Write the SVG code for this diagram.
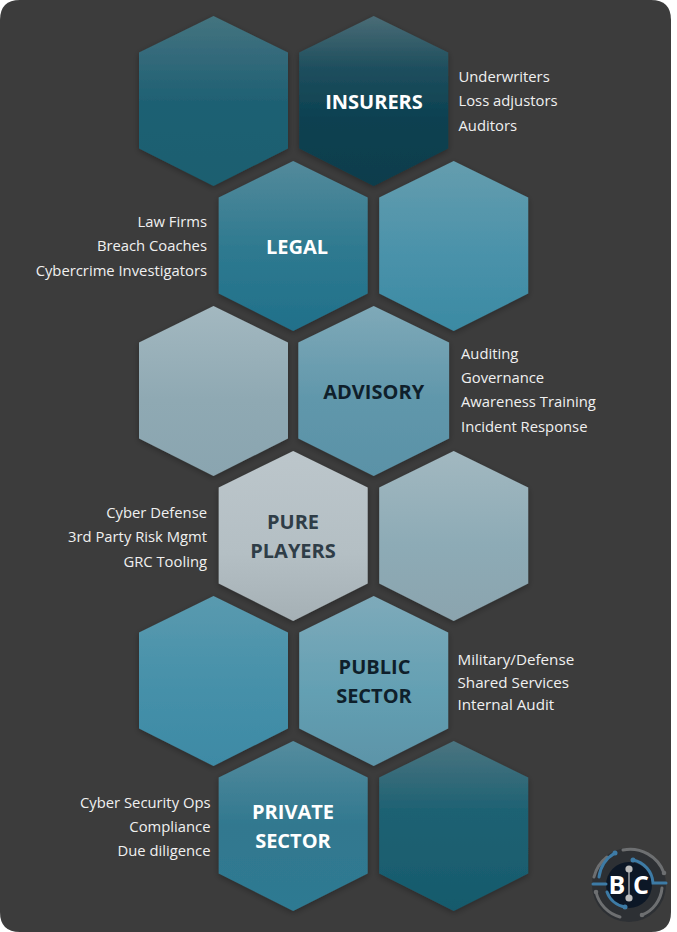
<svg xmlns="http://www.w3.org/2000/svg" width="677" height="932" viewBox="0 0 677 932">
<style>
.t{font-family:"Open Sans","Noto Sans","Liberation Sans",sans-serif}
.h{font-size:20px;font-weight:700;text-anchor:middle;fill:#fff}
.l{font-size:14.8px;fill:#f0f0f0}
.e{text-anchor:end}
.hx{filter:url(#sh)}
</style>
<defs>
<filter id="sh" x="-15%" y="-15%" width="130%" height="130%"><feDropShadow dx="0" dy="2" stdDeviation="3" flood-color="#000" flood-opacity="0.3"/></filter>
<polygon id="hex" points="0,-85 74.5,-48.5 74.5,47.5 0,85 -74.5,47.5 -74.5,-48.5"/>
<linearGradient id="g1" x1="0" y1="0" x2="0" y2="1"><stop offset="0" stop-color="#44747f"/><stop offset=".25" stop-color="#32697a"/><stop offset=".5" stop-color="#1f6173"/><stop offset="1" stop-color="#1a5e70"/></linearGradient>
<linearGradient id="g2" x1="0" y1="0" x2="0" y2="1"><stop offset="0" stop-color="#4a6c76"/><stop offset=".3" stop-color="#1f4f5e"/><stop offset=".6" stop-color="#0c4151"/><stop offset="1" stop-color="#0a3d4c"/></linearGradient>
<linearGradient id="g3" x1="0" y1="0" x2="0" y2="1"><stop offset="0" stop-color="#548a9b"/><stop offset=".5" stop-color="#2f7a90"/><stop offset="1" stop-color="#20708a"/></linearGradient>
<linearGradient id="g4" x1="0" y1="0" x2="0" y2="1"><stop offset="0" stop-color="#659dae"/><stop offset=".55" stop-color="#4a92aa"/><stop offset="1" stop-color="#3b8aa3"/></linearGradient>
<linearGradient id="g5" x1="0" y1="0" x2="0" y2="1"><stop offset="0" stop-color="#a3b8c0"/><stop offset=".55" stop-color="#8fa9b3"/><stop offset="1" stop-color="#8aa5b0"/></linearGradient>
<linearGradient id="g6" x1="0" y1="0" x2="0" y2="1"><stop offset="0" stop-color="#7fa9b8"/><stop offset=".55" stop-color="#6097ab"/><stop offset="1" stop-color="#5a92a7"/></linearGradient>
<linearGradient id="g7" x1="0" y1="0" x2="0" y2="1"><stop offset="0" stop-color="#bcc6cb"/><stop offset=".6" stop-color="#b4bfc4"/><stop offset="1" stop-color="#a5b0b5"/></linearGradient>
<linearGradient id="g8" x1="0" y1="0" x2="0" y2="1"><stop offset="0" stop-color="#a2b8c0"/><stop offset=".55" stop-color="#8dabb6"/><stop offset="1" stop-color="#8ba4ae"/></linearGradient>
<linearGradient id="g9" x1="0" y1="0" x2="0" y2="1"><stop offset="0" stop-color="#5a9aaf"/><stop offset=".55" stop-color="#4590a9"/><stop offset="1" stop-color="#3e8aa5"/></linearGradient>
<linearGradient id="g10" x1="0" y1="0" x2="0" y2="1"><stop offset="0" stop-color="#7eaaba"/><stop offset=".55" stop-color="#64a0b3"/><stop offset="1" stop-color="#5c94a8"/></linearGradient>
<linearGradient id="g11" x1="0" y1="0" x2="0" y2="1"><stop offset="0" stop-color="#558c9e"/><stop offset=".5" stop-color="#31788f"/><stop offset="1" stop-color="#2e7a92"/></linearGradient>
<linearGradient id="g12" x1="0" y1="0" x2="0" y2="1"><stop offset="0" stop-color="#4b7480"/><stop offset=".4" stop-color="#1f6273"/><stop offset="1" stop-color="#165a6c"/></linearGradient>
</defs>
<path id="panel" d="M20 0H651Q671 0 671 20V912Q671 932 651 932H20Q0 932 0 912V20Q0 0 20 0Z" fill="#3c3c3c"/>
<g id="connectors"></g>
<g id="hex-1"><use href="#hex" class="hx" x="213.5" y="101" fill="url(#g1)"/></g>
<g id="insurers"><use href="#hex" class="hx" x="373.7" y="101" fill="url(#g2)"/><text class="t h" x="374" y="108.500">INSURERS</text>
<g class="t l"><text x="458.500" y="82">Underwriters</text><text x="458.500" y="106">Loss adjustors</text><text x="458.500" y="131">Auditors</text></g></g>
<g id="hex-2"><use href="#hex" class="hx" x="453.7" y="246" fill="url(#g4)"/></g>
<g id="legal"><use href="#hex" class="hx" x="293.200" y="246" fill="url(#g3)"/><text class="t h" x="297" y="254">LEGAL</text>
<g class="t l e"><text x="207" y="227">Law Firms</text><text x="207" y="251">Breach Coaches</text><text x="207" y="276">Cybercrime Investigators</text></g></g>
<g id="hex-3"><use href="#hex" class="hx" x="213.5" y="391" fill="url(#g5)"/></g>
<g id="advisory"><use href="#hex" class="hx" transform="translate(373.700 391) scale(1.012 1)" fill="url(#g6)"/><text class="t h" x="373.7" y="399" style="fill:#0f1f2b">ADVISORY</text>
<g class="t l"><text x="461" y="359">Auditing</text><text x="461" y="383">Governance</text><text x="461" y="407">Awareness Training</text><text x="461" y="432">Incident Response</text></g></g>
<g id="hex-4"><use href="#hex" class="hx" x="453.7" y="536" fill="url(#g8)"/></g>
<g id="pure-players"><use href="#hex" class="hx" x="293.200" y="536" fill="url(#g7)"/><text class="t h" x="293" y="529" style="fill:#2f3d47">PURE</text><text class="t h" x="293" y="558" style="fill:#2f3d47">PLAYERS</text>
<g class="t l e"><text x="207" y="518">Cyber Defense</text><text x="207" y="542">3rd Party Risk Mgmt</text><text x="207" y="567">GRC Tooling</text></g></g>
<g id="hex-5"><use href="#hex" class="hx" x="213.5" y="681" fill="url(#g9)"/></g>
<g id="public-sector"><use href="#hex" class="hx" x="373.7" y="681" fill="url(#g10)"/><text class="t h" x="374.500" y="674" style="fill:#0f1f2b">PUBLIC</text><text class="t h" x="374" y="703" style="fill:#0f1f2b">SECTOR</text>
<g class="t l" style="font-size:15.2px"><text x="457.500" y="665">Military/Defense</text><text x="457.500" y="688">Shared Services</text><text x="457.500" y="710">Internal Audit</text></g></g>
<g id="hex-6"><use href="#hex" class="hx" x="453.7" y="826" fill="url(#g12)"/></g>
<g id="private-sector"><use href="#hex" class="hx" x="293.200" y="826" fill="url(#g11)"/><text class="t h" x="293" y="819">PRIVATE</text><text class="t h" x="293" y="848">SECTOR</text>
<g class="t l e"><text x="210.500" y="808">Cyber Security Ops</text><text x="210.500" y="832">Compliance</text><text x="210.500" y="856">Due diligence</text></g></g>
<g id="logo" fill="none" stroke-linecap="round">
<circle cx="629" cy="885" r="37" fill="#23282e" stroke="none" opacity=".6"/>
<circle cx="629" cy="885" r="23" fill="#0c1726" stroke="none"/>
<path d="M623 850A36 36 0 0 1 664 873M642 915A32 32 0 0 0 662 888M596 892A34 34 0 0 0 620 917M594 877A36 36 0 0 1 607 857" stroke="#6d6f71" stroke-width="3"/>
<path d="M615 853A33 33 0 0 0 599 877M593 884H606M633 860A25 25 0 0 1 653 883H666M625 907A23 23 0 0 1 607 892" stroke="#3d7ba6" stroke-width="3"/>
<path d="M629 869V898" stroke="#c8c8c8" stroke-width="1.200"/>
<circle cx="629" cy="869" r="3.600" fill="#bcbcbc"/><circle cx="629" cy="898" r="3.600" fill="#bcbcbc"/>
<circle cx="615" cy="853" r="2.500" fill="#3d7ba6"/><circle cx="633" cy="860" r="2.500" fill="#3d7ba6"/><circle cx="625" cy="907" r="2.500" fill="#3d7ba6"/><circle cx="664" cy="873" r="2.300" fill="#6d6f71"/><circle cx="596" cy="892" r="2.300" fill="#6d6f71"/><circle cx="642" cy="915" r="2.300" fill="#6d6f71"/>
<text class="t" x="617" y="894" font-size="25" font-weight="700" text-anchor="middle" style="fill:#fff">B</text>
<text class="t" x="641" y="894" font-size="25" font-weight="700" text-anchor="middle" style="fill:#fff">C</text>
</g>
</svg>
